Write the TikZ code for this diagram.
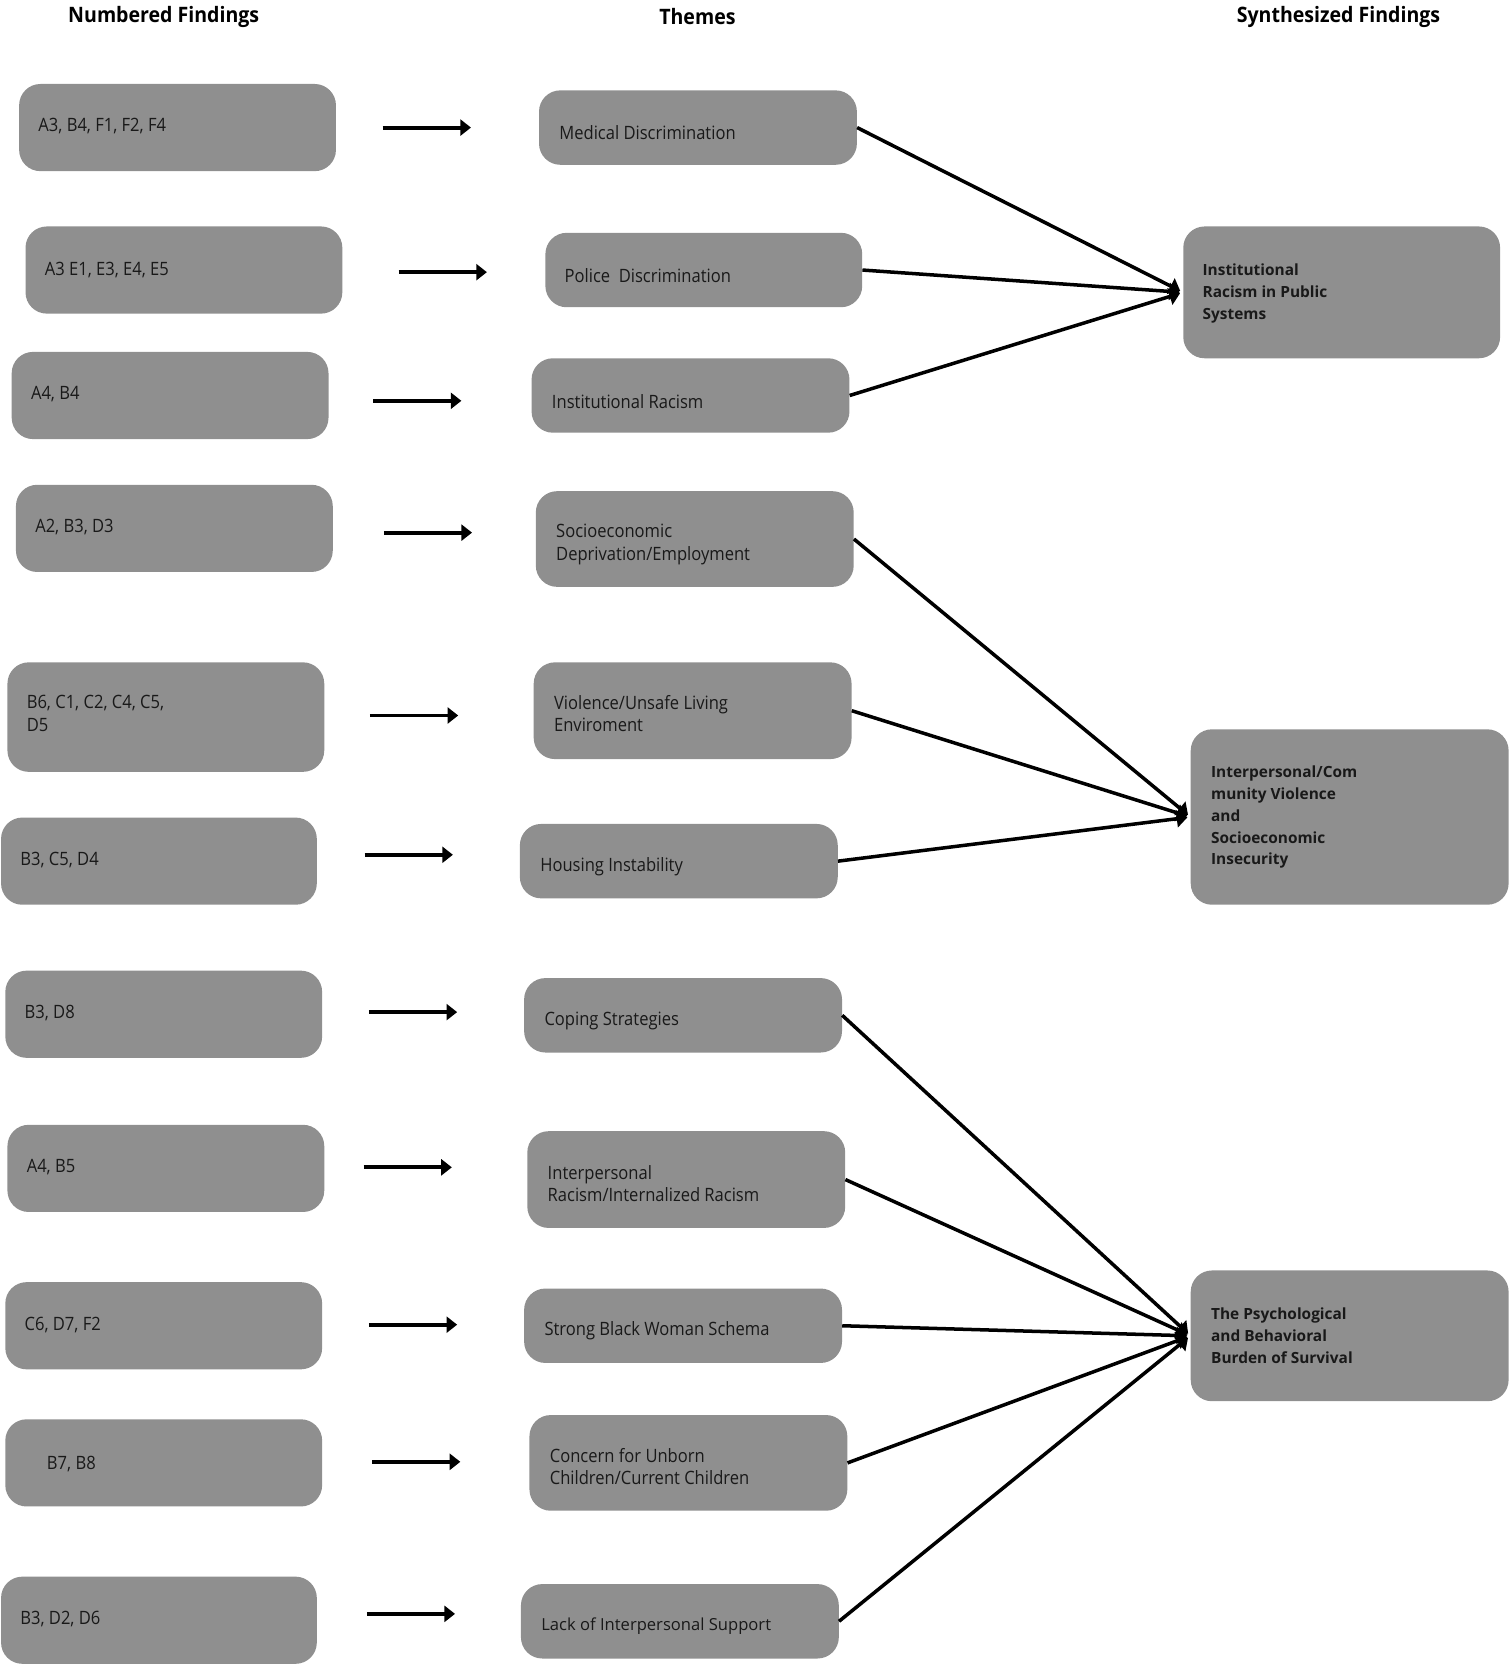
\documentclass[tikz,border=0pt]{standalone}
\usepackage{fontspec}
\setmainfont{Open Sans}
\newfontfamily\condf[FakeStretch=0.9]{Open Sans}
\newfontfamily\headf[FakeStretch=0.92]{Open Sans}
\usetikzlibrary{arrows.meta}
\definecolor{boxgray}{HTML}{8F8F8F}
\tikzset{
  gbox/.style={fill=boxgray, draw=none, rounded corners=20pt, inner sep=0pt},
  btxt/.style={anchor=west, inner sep=0pt, font=\condf\fontsize{17.3}{21}\selectfont, align=left, text=black!90},
  mtxt/.style={anchor=north west, inner sep=0pt, font=\condf\fontsize{17.3}{21}\selectfont, align=left, text=black!90},
  rtxt/.style={anchor=north west, inner sep=0pt, font=\bfseries\fontsize{14.5}{20.6}\selectfont, align=left, text=black!90},
  head/.style={inner sep=0pt, font=\headf\bfseries\fontsize{20}{24}\selectfont},
  sarrow/.style={line width=3.7pt, -{Triangle[length=10pt,width=15pt]}},
  larrow/.style={line width=3.3pt, shorten >=3pt, -{Triangle[length=10pt,width=16pt]}},
}
\newcommand\gbx[5]{\node[gbox, minimum width={#4-#2}, minimum height={#5-#3}] (#1) at ({(#2+#4)/2},{(#3+#5)/2}) {};}
\begin{document}
\begin{tikzpicture}[x=1pt,y=-1pt]
\useasboundingbox (0,0) rectangle (1420,1568);
% headings
\node[head] (h1) at (154,16) {Numbered Findings};
\node[head] (h2) at (656,16) {Themes};
\node[head] (h3) at (1259,16) {Synthesized Findings};
% left boxes
\gbx{l1}{18}{79}{316}{161}
\gbx{l2}{24}{213}{322}{295}
\gbx{l3}{11}{331}{309}{413}
\gbx{l4}{15}{456}{313}{538}
\gbx{l5}{7}{623}{305}{726}
\gbx{l6}{1}{769}{298}{851}
\gbx{l7}{5}{913}{303}{995}
\gbx{l8}{7}{1058}{305}{1140}
\gbx{l9}{5}{1206}{303}{1288}
\gbx{l10}{5}{1335}{303}{1417}
\gbx{l11}{1}{1483}{298}{1565}
\node[btxt] (tl1) at (36,119) {A3, B4, F1, F2, F4};
\node[btxt] (tl2) at (42,254) {A3 E1, E3, E4, E5};
\node[btxt] (tl3) at (29,371) {A4, B4};
\node[btxt] (tl4) at (33,496) {A2, B3, D3};
\node[mtxt] (tl5) at (25,654) {B6, C1, C2, C4, C5,\\D5};
\node[btxt] (tl6) at (19,809) {B3, C5, D4};
\node[btxt] (tl7) at (23,953) {B3, D8};
\node[btxt] (tl8) at (25,1098) {A4, B5};
\node[btxt] (tl9) at (23,1246) {C6, D7, F2};
\node[btxt] (tl10) at (44,1377) {B7, B8};
\node[btxt] (tl11) at (19,1523) {B3, D2, D6};
% middle boxes
\gbx{m1}{507}{85}{806}{155}
\gbx{m2}{513}{219}{811}{289}
\gbx{m3}{500}{337}{799}{407}
\gbx{m4}{504}{462}{803}{552}
\gbx{m5}{502}{623}{801}{714}
\gbx{m6}{489}{775}{788}{845}
\gbx{m7}{493}{920}{792}{990}
\gbx{m8}{496}{1064}{795}{1155}
\gbx{m9}{493}{1212}{792}{1282}
\gbx{m10}{498}{1331}{797}{1421}
\gbx{m11}{490}{1490}{789}{1560}
\node[btxt] (tm1) at (526,125) {Medical Discrimination};
\node[btxt] (tm2) at (531,259) {Police\ \ Discrimination};
\node[btxt] (tm3) at (519,378) {Institutional Racism};
\node[mtxt] (tm4) at (523,493) {Socioeconomic\\Deprivation/Employment};
\node[mtxt] (tm5) at (521,654) {Violence/Unsafe Living\\Enviroment};
\node[btxt] (tm6) at (508,815) {Housing Instability};
\node[btxt] (tm7) at (512,960) {Coping Strategies};
\node[mtxt] (tm8) at (515,1096) {Interpersonal\\Racism/Internalized Racism};
\node[btxt] (tm9) at (512,1252) {Strong Black Woman Schema};
\node[mtxt] (tm10) at (517,1362) {Concern for Unborn\\Children/Current Children};
\node[btxt, font=\fontsize{15.6}{20}\selectfont] (tm11) at (509,1530) {Lack of Interpersonal Support};
% right boxes
\gbx{r1}{1113}{213}{1411}{337}
\gbx{r2}{1120}{686}{1419}{851}
\gbx{r3}{1120}{1195}{1419}{1318}
\node[rtxt] (tr1) at (1131,248) {Institutional\\Racism in Public\\Systems};
\node[rtxt] (tr2) at (1139,720) {Interpersonal/Com\\munity Violence\\and\\Socioeconomic\\Insecurity};
\node[rtxt] (tr3) at (1139,1230) {The Psychological\\and Behavioral\\Burden of Survival};
% short arrows
\foreach \i/\xa/\xb/\yy in {1/360/443/120, 2/375/458/256, 3/351/434/377, 4/361/444/501, 5/348/431/673, 6/343/426/804, 7/347/430/952, 8/342/425/1098, 9/347/430/1246, 10/350/433/1375, 11/345/428/1518}{
  \coordinate (s\i) at (\xa,\yy);
  \coordinate (e\i) at (\xb,\yy);
  \draw[sarrow] (s\i) -- (e\i);
}
% long arrows
\draw[larrow] (m1.east) -- (r1.west);
\draw[larrow] (m2.east) -- (r1.west);
\draw[larrow] (m3.east) -- (r1.west);
\draw[larrow] (m4.east) -- (r2.west);
\draw[larrow] (m5.east) -- (r2.west);
\draw[larrow] (m6.east) -- (r2.west);
\draw[larrow] (m7.east) -- (r3.west);
\draw[larrow] (m8.east) -- (r3.west);
\draw[larrow] (m9.east) -- (r3.west);
\draw[larrow] (m10.east) -- (r3.west);
\draw[larrow] (m11.east) -- (r3.west);
\end{tikzpicture}
\end{document}
